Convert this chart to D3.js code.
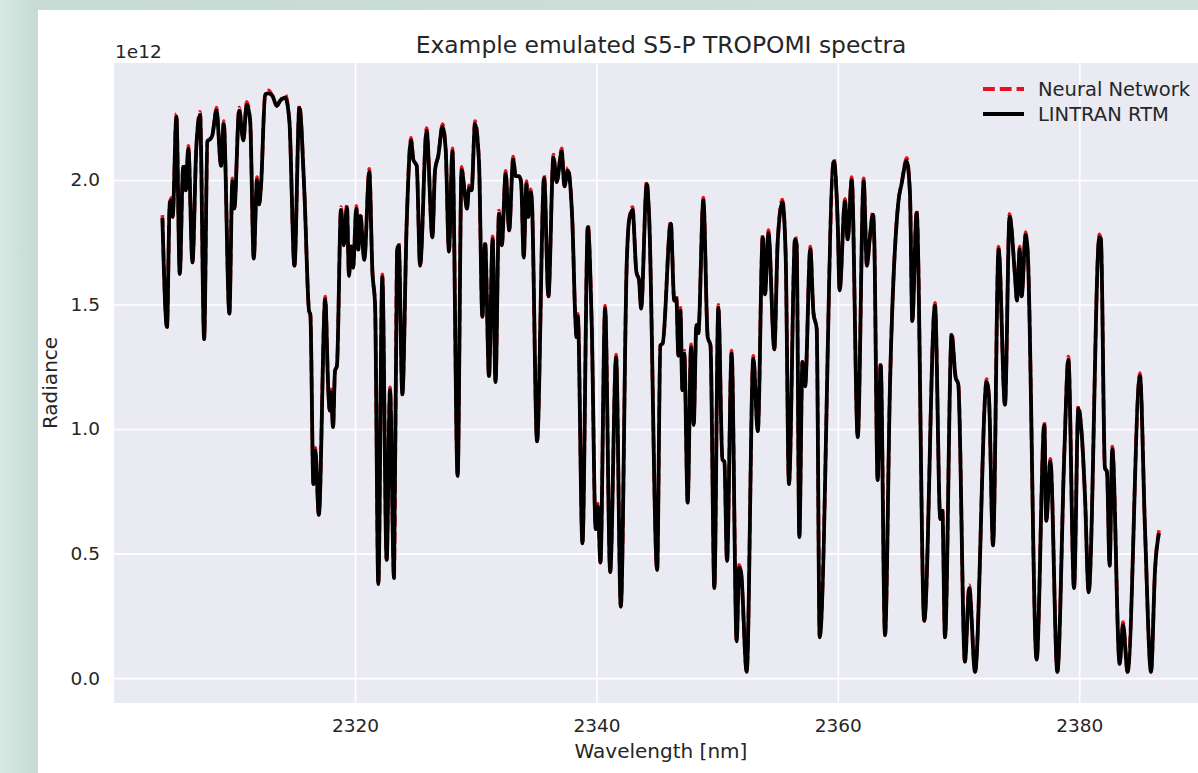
<!DOCTYPE html>
<html>
<head>
<meta charset="utf-8">
<script src="https://cdn.jsdelivr.net/npm/d3@7"></script>
<style>
  body { margin: 0; background: #cfe2dc; }
  svg { display: block; font-family: "DejaVu Sans", sans-serif; }
</style>
</head>
<body>
<div id="chart"></div>
<script>
// wavelength [nm] of traced spectrum vertices
const wavelength = [
  2304.04,2304.42,2304.65,2304.82,2304.89,2305.20,2305.48,2305.75,2305.86,2305.97,
  2306.19,2306.53,2306.85,2307.16,2307.50,2307.77,2307.99,2308.18,2308.52,2308.90,
  2309.12,2309.59,2309.84,2310.00,2310.40,2310.75,2311.02,2311.31,2311.61,2311.88,
  2312.05,2312.22,2312.55,2312.82,2313.16,2313.51,2313.79,2314.21,2314.56,2314.98,
  2315.39,2315.81,2316.19,2316.30,2316.55,2316.71,2317.00,2317.53,2317.79,2317.90,
  2318.01,2318.18,2318.34,2318.50,2318.84,2319.06,2319.33,2319.50,2319.67,2319.84,
  2320.11,2320.27,2320.44,2320.77,2321.18,2321.44,2321.66,2321.93,2322.26,2322.62,
  2322.90,2323.23,2323.48,2323.62,2323.92,2324.28,2324.64,2324.83,2325.11,2325.39,
  2325.93,2326.41,2326.63,2326.90,2327.24,2327.51,2327.78,2328.07,2328.50,2328.83,
  2329.12,2329.28,2329.44,2329.66,2329.94,2330.27,2330.55,2330.78,2331.10,2331.40,
  2331.64,2331.93,2332.16,2332.48,2332.77,2333.10,2333.31,2333.60,2333.76,2333.98,
  2334.20,2334.36,2334.54,2334.65,2335.08,2335.67,2336.02,2336.44,2336.71,2337.12,
  2337.35,2337.63,2338.01,2338.24,2338.35,2338.46,2338.84,2339.29,2339.61,2339.94,
  2340.12,2340.33,2340.72,2341.14,2341.63,2342.02,2342.51,2342.70,2342.99,2343.31,
  2343.53,2343.70,2344.17,2344.36,2345.03,2345.30,2345.49,2346.16,2346.45,2346.62,
  2346.79,2346.96,2347.12,2347.28,2347.56,2347.84,2348.06,2348.28,2348.44,2348.86,
  2349.22,2349.45,2349.77,2350.10,2350.44,2350.60,2350.82,2351.20,2351.62,2351.82,
  2351.98,2352.45,2353.00,2353.37,2353.78,2353.97,2354.25,2354.74,2355.02,2355.41,
  2355.68,2355.95,2356.46,2356.59,2356.81,2357.07,2357.29,2357.72,2357.98,2358.25,
  2358.50,2359.67,2359.99,2360.15,2360.59,2360.82,2361.15,2361.65,2362.14,2362.41,
  2362.64,2362.91,2363.02,2363.30,2363.55,2363.91,2364.32,2365.01,2365.28,2365.70,
  2365.98,2366.17,2366.53,2367.16,2368.05,2368.49,2368.66,2368.88,2369.43,2369.76,
  2369.98,2370.53,2370.89,2371.37,2372.33,2372.52,2372.86,2373.32,2373.85,2374.23,
  2374.68,2374.84,2375.07,2375.23,2375.56,2375.73,2376.47,2377.11,2377.27,2377.61,
  2378.19,2378.77,2379.10,2379.57,2379.93,2380.20,2380.48,2380.78,2381.67,2381.80,
  2382.13,2382.30,2382.52,2382.74,2383.35,2383.63,2384.01,2385.03,2385.45,2385.95,
  2386.28,2386.61
];

// LINTRAN RTM radiance (x 1e12)
const lintranRtm = [
  1.847,1.41,1.91,1.918,1.852,2.254,1.623,2.049,2.054,1.959,
  2.126,1.669,2.131,2.262,1.361,2.156,2.164,2.18,2.279,2.057,
  2.225,1.464,1.995,1.885,2.279,2.159,2.302,2.238,1.685,2.0,
  1.902,1.984,2.344,2.348,2.338,2.298,2.318,2.331,2.238,1.656,
  2.29,1.943,1.475,1.459,0.779,0.913,0.656,1.52,1.148,1.074,
  1.148,1.008,1.234,1.254,1.88,1.738,1.89,1.615,1.733,1.648,
  1.885,1.721,1.856,1.68,2.033,1.631,1.5,0.377,1.61,0.475,
  1.156,0.402,1.713,1.738,1.139,1.828,2.159,2.082,2.057,1.656,
  2.197,1.77,2.041,2.098,2.213,2.123,1.713,2.115,0.811,2.041,
  1.934,1.885,1.967,1.959,2.225,2.074,1.451,1.743,1.213,1.762,
  1.189,1.865,1.738,2.025,1.798,2.082,2.016,2.016,1.992,1.689,
  1.984,1.852,1.951,1.918,0.951,2.008,1.533,2.09,1.992,2.115,
  1.975,2.038,1.828,1.459,1.369,1.451,0.541,1.811,1.418,0.598,
  0.689,0.464,1.484,0.426,1.287,0.287,1.664,1.836,1.88,1.631,
  1.598,1.484,1.984,1.861,0.434,1.336,1.344,1.825,1.516,1.525,
  1.295,1.475,1.156,1.303,0.705,1.328,1.016,1.418,1.385,1.918,
  1.369,1.336,0.361,1.487,0.877,0.869,0.47,1.303,0.148,0.443,
  0.426,0.025,1.282,0.992,1.77,1.541,1.787,1.32,1.754,1.91,
  1.697,0.779,1.762,1.738,0.566,1.27,1.172,1.721,1.467,1.402,
  0.164,2.075,1.828,1.557,1.913,1.762,2.0,0.967,1.995,1.656,
  1.762,1.861,1.762,0.795,1.257,0.172,1.172,1.91,1.984,2.077,
  1.943,1.434,1.869,0.23,1.495,0.639,0.672,0.164,1.377,1.208,
  1.18,0.066,0.361,0.025,1.189,1.131,0.533,1.721,1.098,1.852,
  1.615,1.516,1.721,1.533,1.779,1.713,0.074,1.016,0.631,0.869,
  0.025,0.91,1.279,0.361,1.082,0.984,0.73,0.344,1.77,1.762,
  0.844,0.828,0.451,0.918,0.057,0.213,0.025,1.213,0.598,0.025,
  0.434,0.582
];

// Neural network emulation (x 1e12), peeks out red above the peaks
const neuralNet = [
  1.859,1.41,1.91,1.93,1.852,2.266,1.623,2.049,2.066,1.959,
  2.138,1.669,2.131,2.274,1.361,2.156,2.164,2.18,2.291,2.057,
  2.237,1.464,2.007,1.885,2.291,2.159,2.314,2.238,1.685,2.012,
  1.902,1.984,2.344,2.36,2.338,2.298,2.318,2.343,2.238,1.656,
  2.302,1.943,1.475,1.459,0.779,0.925,0.656,1.532,1.148,1.074,
  1.16,1.008,1.234,1.254,1.892,1.738,1.902,1.615,1.745,1.648,
  1.897,1.721,1.868,1.68,2.045,1.631,1.5,0.377,1.622,0.475,
  1.168,0.402,1.713,1.75,1.139,1.828,2.171,2.082,2.057,1.656,
  2.209,1.77,2.041,2.098,2.225,2.123,1.713,2.127,0.811,2.053,
  1.934,1.885,1.979,1.959,2.237,2.074,1.451,1.755,1.213,1.774,
  1.189,1.877,1.738,2.037,1.798,2.094,2.016,2.016,1.992,1.689,
  1.996,1.852,1.963,1.918,0.951,2.02,1.533,2.102,1.992,2.127,
  1.975,2.05,1.828,1.459,1.369,1.463,0.541,1.823,1.418,0.598,
  0.701,0.464,1.496,0.426,1.299,0.287,1.664,1.836,1.892,1.631,
  1.598,1.484,1.996,1.861,0.434,1.336,1.344,1.837,1.516,1.537,
  1.295,1.487,1.156,1.315,0.705,1.34,1.016,1.418,1.385,1.93,
  1.369,1.336,0.361,1.499,0.877,0.869,0.47,1.315,0.148,0.455,
  0.426,0.025,1.294,0.992,1.782,1.541,1.799,1.32,1.754,1.922,
  1.697,0.779,1.774,1.738,0.566,1.27,1.172,1.733,1.467,1.402,
  0.164,2.087,1.828,1.557,1.925,1.762,2.012,0.967,2.007,1.656,
  1.762,1.873,1.762,0.795,1.269,0.172,1.172,1.91,1.984,2.089,
  1.943,1.434,1.881,0.23,1.507,0.639,0.684,0.164,1.389,1.208,
  1.18,0.066,0.373,0.025,1.201,1.131,0.533,1.733,1.098,1.864,
  1.615,1.516,1.733,1.533,1.791,1.713,0.074,1.028,0.631,0.881,
  0.025,0.91,1.291,0.361,1.094,0.984,0.73,0.344,1.782,1.762,
  0.844,0.828,0.451,0.93,0.057,0.225,0.025,1.225,0.598,0.025,
  0.434,0.594
];

const seriesNames = ["Neural Network", "LINTRAN RTM"];
const xTicks = [2320, 2340, 2360, 2380];
const yTicks = [0, 0.5, 1.0, 1.5, 2.0];

const width = 1198;
const height = 773;
// axes box (right edge runs past the cropped figure)
const plot = { left: 114, top: 63, right: 1208, bottom: 703 };
const textColor = "#262626";

const svg = d3.select("#chart")
    .append("svg")
    .attr("width", width)
    .attr("height", height);

// slide background + white figure
const defs = svg.append("defs");
const bg = defs.append("linearGradient").attr("id", "bg")
    .attr("x1", "0").attr("x2", "1").attr("y1", "0").attr("y2", "0");
bg.append("stop").attr("offset", "0").attr("stop-color", "#d6e9e3");
bg.append("stop").attr("offset", "0.03").attr("stop-color", "#c6dbd4");
bg.append("stop").attr("offset", "1").attr("stop-color", "#cfe1db");
defs.append("clipPath").attr("id", "plotClip")
  .append("rect")
    .attr("x", plot.left).attr("y", plot.top)
    .attr("width", plot.right - plot.left).attr("height", plot.bottom - plot.top);

svg.append("rect").attr("width", width).attr("height", height).attr("fill", "url(#bg)");
svg.append("rect")
    .attr("x", 38).attr("y", 10)
    .attr("width", width - 38).attr("height", height - 10)
    .attr("fill", "#ffffff");

// Scales
const x = d3.scaleLinear()
    .domain([2300.03, 2390.67])
    .range([plot.left, plot.right]);

const y = d3.scaleLinear()
    .domain([-0.1, 2.47])
    .range([plot.bottom, plot.top]);

// Axes background
svg.append("rect")
    .attr("x", plot.left).attr("y", plot.top)
    .attr("width", plot.right - plot.left).attr("height", plot.bottom - plot.top)
    .attr("fill", "#eaeaf2");

// X axis with grid lines
const xAxis = svg.append("g")
    .attr("transform", `translate(0,${plot.bottom})`)
    .call(d3.axisBottom(x).tickValues(xTicks).tickFormat(d3.format("d"))
        .tickSize(-(plot.bottom - plot.top)).tickPadding(16));
xAxis.select(".domain").remove();
xAxis.selectAll("line").attr("stroke", "#ffffff").attr("stroke-width", 1.6);
xAxis.selectAll("text")
    .attr("fill", textColor)
    .style("font-size", "18.5px")
    .style("font-family", "DejaVu Sans");

// Y axis with grid lines
const yAxis = svg.append("g")
    .attr("transform", `translate(${plot.left},0)`)
    .call(d3.axisLeft(y).tickValues(yTicks).tickFormat(d3.format(".1f"))
        .tickSize(-(plot.right - plot.left)).tickPadding(14));
yAxis.select(".domain").remove();
yAxis.selectAll("line").attr("stroke", "#ffffff").attr("stroke-width", 1.6);
yAxis.selectAll("text")
    .attr("fill", textColor)
    .style("font-size", "18.5px")
    .style("font-family", "DejaVu Sans");

// Series
const nnData = wavelength.map((w, i) => ({ w: w, v: neuralNet[i] }));
const rtmData = wavelength.map((w, i) => ({ w: w, v: lintranRtm[i] }));

const line = d3.line()
    .x(d => x(d.w))
    .y(d => y(d.v))
    .curve(d3.curveMonotoneX);

const lines = svg.append("g").attr("clip-path", "url(#plotClip)");

lines.append("path")
    .datum(nnData)
    .attr("fill", "none")
    .attr("stroke", "#e8101a")
    .attr("stroke-width", 3.6)
    .attr("stroke-dasharray", "11.8,5")
    .attr("stroke-linejoin", "round")
    .attr("d", line);

lines.append("path")
    .datum(rtmData)
    .attr("fill", "none")
    .attr("stroke", "#000000")
    .attr("stroke-width", 3.8)
    .attr("stroke-linejoin", "round")
    .attr("d", line);

// Offset text, title, labels
svg.append("text")
    .attr("x", plot.left + 1).attr("y", 58)
    .attr("fill", textColor)
    .style("font-size", "18.5px")
    .text("1e12");

svg.append("text")
    .attr("x", (plot.left + plot.right) / 2).attr("y", 53)
    .attr("text-anchor", "middle")
    .attr("fill", textColor)
    .style("font-size", "23.4px")
    .text("Example emulated S5-P TROPOMI spectra");

svg.append("text")
    .attr("x", (plot.left + plot.right) / 2).attr("y", 758)
    .attr("text-anchor", "middle")
    .attr("fill", textColor)
    .style("font-size", "20px")
    .text("Wavelength [nm]");

svg.append("text")
    .attr("transform", `translate(57,${(plot.top + plot.bottom) / 2}) rotate(-90)`)
    .attr("text-anchor", "middle")
    .attr("fill", textColor)
    .style("font-size", "20px")
    .text("Radiance");

// Legend
const legendStyles = [
    { color: "#e8101a", dash: "11.8,5" },
    { color: "#000000", dash: null }
];
const legend = svg.selectAll(".legend-item")
    .data(seriesNames)
  .enter().append("g")
    .attr("class", "legend-item")
    .attr("transform", (d, i) => `translate(983, ${89 + i * 25})`);

legend.append("line")
    .attr("x1", 0).attr("x2", 41)
    .attr("stroke", (d, i) => legendStyles[i].color)
    .attr("stroke-width", 3.8)
    .attr("stroke-dasharray", (d, i) => legendStyles[i].dash);

legend.append("text")
    .attr("x", 55)
    .attr("y", 0)
    .attr("dy", "0.35em")
    .attr("fill", textColor)
    .style("font-size", "19.5px")
    .text(d => d);
</script>
</body>
</html>
